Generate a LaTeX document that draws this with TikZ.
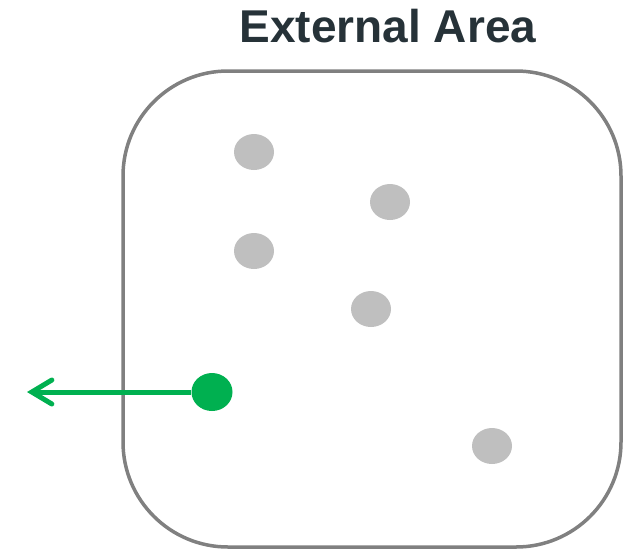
\documentclass[tikz,border=0pt]{standalone}
\usepackage{fontspec}
\setmainfont{Liberation Sans}
\usetikzlibrary{arrows.meta,shapes.geometric}
\definecolor{gdot}{HTML}{BFBFBF}
\definecolor{grn}{HTML}{00B050}
\definecolor{frame}{HTML}{808080}
\definecolor{ttl}{HTML}{263238}
\tikzset{
  gdotstyle/.style={ellipse, fill=gdot, minimum width=40pt, minimum height=36pt, inner sep=0pt},
  greendot/.style={ellipse, fill=grn, minimum width=41pt, minimum height=38pt, inner sep=0pt},
}
\begin{document}
\begin{tikzpicture}[x=1pt,y=-1pt]
\useasboundingbox (0,0) rectangle (629,550);
\node[font=\bfseries\fontsize{46}{50}\selectfont, text=ttl, anchor=base] (title) at (388,42) {External Area};
\draw[frame, line width=3.5pt, rounded corners=105pt] (123,71) rectangle (621,547);
\node[gdotstyle] (d1) at (254,152) {};
\node[gdotstyle] (d2) at (390,202) {};
\node[gdotstyle] (d3) at (254,251) {};
\node[gdotstyle] (d4) at (371,309) {};
\node[gdotstyle] (d5) at (492,446) {};
\node[greendot] (g) at (212,392) {};
\coordinate (out) at (27,392);
\draw[grn, line width=5pt, -{Straight Barb[length=20pt,width=24pt,line cap=round]}] (g) -- (out);
\end{tikzpicture}
\end{document}
